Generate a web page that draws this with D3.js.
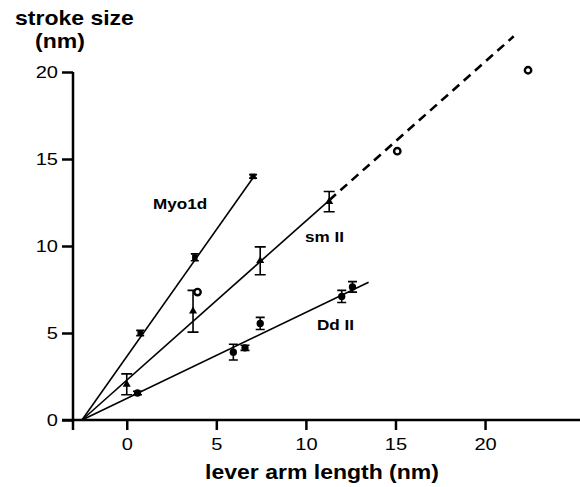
<!DOCTYPE html>
<html>
<head>
<meta charset="utf-8">
<script src="https://cdn.jsdelivr.net/npm/d3@7"></script>
<style>
  body { margin: 0; background: #fff; }
  svg { display: block; }
</style>
</head>
<body>
<div id="chart"></div>
<script>
// values (nm)
var myoX = [0.75, 3.8, 7.05],
    myoY = [5.0, 9.35, 14.0],
    myoErr = [0.15, 0.2, 0.1];

var smX = [0, 3.7, 7.45, 11.3],
    smY = [2.05, 6.25, 9.15, 12.55],
    smErr = [0.6, 1.2, 0.8, 0.58];

var ddX = [0.6, 5.95, 6.6, 7.45, 12.0, 12.6],
    ddY = [1.55, 3.9, 4.15, 5.55, 7.1, 7.65],
    ddErr = [0.1, 0.45, 0.15, 0.35, 0.35, 0.3];

var openX = [3.95, 15.1, 22.4],
    openY = [7.35, 15.45, 20.1];

// fitted lines, all through the same x intercept
var fitNames = ["Myo1d", "sm II", "Dd II"],
    fitX0 = -2.5,
    fitSlope = [1.458, 0.915, 0.495],
    fitEnd = [7.1, 11.3, 13.5];
var dashEnd = 21.6; // sm II extrapolation

var xTicks = [0, 5, 10, 15, 20],
    yTicks = [0, 5, 10, 15, 20];

var width = 580, height = 487;
var stretch = 1.18; // the original figure is a bit wide in its lettering
var font = "'Liberation Sans', Arial, Helvetica, sans-serif";

var svg = d3.select("#chart").append("svg")
    .attr("width", width)
    .attr("height", height);

var x = d3.scaleLinear().domain([-3, 25.3]).range([73, 580]);
var y = d3.scaleLinear().domain([0, 20]).range([420, 72]);

// axes
var xAxis = svg.append("g")
    .attr("transform", "translate(0," + y(0) + ")")
    .call(d3.axisBottom(x).tickValues(xTicks).tickSize(10).tickPadding(8).tickSizeOuter(0));
var yAxis = svg.append("g")
    .attr("transform", "translate(" + x(-3) + ",0)")
    .call(d3.axisLeft(y).tickValues(yTicks).tickSize(11).tickPadding(4).tickSizeOuter(0));

[xAxis, yAxis].forEach(function(a) {
    a.select(".domain").attr("stroke", "#000").attr("stroke-width", 2.5);
    a.selectAll(".tick line").attr("stroke", "#000").attr("stroke-width", 2.5);
    a.selectAll(".tick text")
        .attr("fill", "#000")
        .style("font-family", font)
        .style("font-size", "17px")
        .attr("transform", "scale(" + stretch + ",1)");
});
yAxis.selectAll(".tick text").attr("x", -15 / stretch);
xAxis.select(".domain").attr("d", "M62,0H580");
yAxis.select(".domain").attr("d", "M0," + y(20) + "V" + (y(0) + 10));

// fit lines
var plot = svg.append("g");
fitSlope.forEach(function(s, i) {
    plot.append("line")
        .attr("x1", x(fitX0)).attr("y1", y(0))
        .attr("x2", x(fitEnd[i])).attr("y2", y(s * (fitEnd[i] - fitX0)))
        .attr("stroke", "#000").attr("stroke-width", 1.6);
});
plot.append("line")
    .attr("x1", x(fitEnd[1])).attr("y1", y(fitSlope[1] * (fitEnd[1] - fitX0)))
    .attr("x2", x(dashEnd)).attr("y2", y(fitSlope[1] * (dashEnd - fitX0)))
    .attr("stroke", "#000").attr("stroke-width", 2.6)
    .attr("stroke-dasharray", "9,6");

function errorBars(xs, ys, es, cap) {
    xs.forEach(function(v, i) {
        var cx = x(v), top = y(ys[i] + es[i]), bot = y(ys[i] - es[i]);
        plot.append("path")
            .attr("d", "M" + cx + "," + top + "V" + bot +
                "M" + (cx - cap) + "," + top + "H" + (cx + cap) +
                "M" + (cx - cap) + "," + bot + "H" + (cx + cap))
            .attr("stroke", "#000").attr("stroke-width", 1.6).attr("fill", "none");
    });
}

errorBars(myoX, myoY, myoErr, 4);
errorBars(smX, smY, smErr, 5.5);
errorBars(ddX, ddY, ddErr, 4.5);

// markers
var sq = d3.symbol().type(d3.symbolSquare).size(30);
var tri = d3.symbol().type(d3.symbolTriangle).size(28);
var circ = d3.symbol().type(d3.symbolCircle).size(42);

plot.selectAll(".myo").data(myoX).enter().append("path")
    .attr("d", sq)
    .attr("transform", function(d, i) { return "translate(" + x(d) + "," + y(myoY[i]) + ")"; })
    .attr("fill", "#000");
plot.selectAll(".sm").data(smX).enter().append("path")
    .attr("d", tri)
    .attr("transform", function(d, i) { return "translate(" + x(d) + "," + y(smY[i]) + ")"; })
    .attr("fill", "#000");
plot.selectAll(".dd").data(ddX).enter().append("path")
    .attr("d", circ)
    .attr("transform", function(d, i) { return "translate(" + x(d) + "," + y(ddY[i]) + ")"; })
    .attr("fill", "#000");
plot.selectAll(".open").data(openX).enter().append("circle")
    .attr("cx", function(d) { return x(d); })
    .attr("cy", function(d, i) { return y(openY[i]); })
    .attr("r", 3.2)
    .attr("fill", "#fff").attr("stroke", "#000").attr("stroke-width", 2.4);

function label(txt, px, py, size, anchor) {
    return svg.append("text")
        .text(txt)
        .attr("transform", "translate(" + px + "," + py + ") scale(" + stretch + ",1)")
        .attr("text-anchor", anchor || "start")
        .style("font-family", font)
        .style("font-weight", "bold")
        .style("font-size", size + "px");
}

// series labels
var labelPos = [[153, 209], [305, 242], [317, 330]];
fitNames.forEach(function(n, i) {
    label(n, labelPos[i][0], labelPos[i][1], 14.5);
});

// axis titles
label("stroke size", 15, 25, 19.5);
label("(nm)", 35, 48, 19.5);
label("lever arm length (nm)", 322, 479, 19.5, "middle");
</script>
</body>
</html>
